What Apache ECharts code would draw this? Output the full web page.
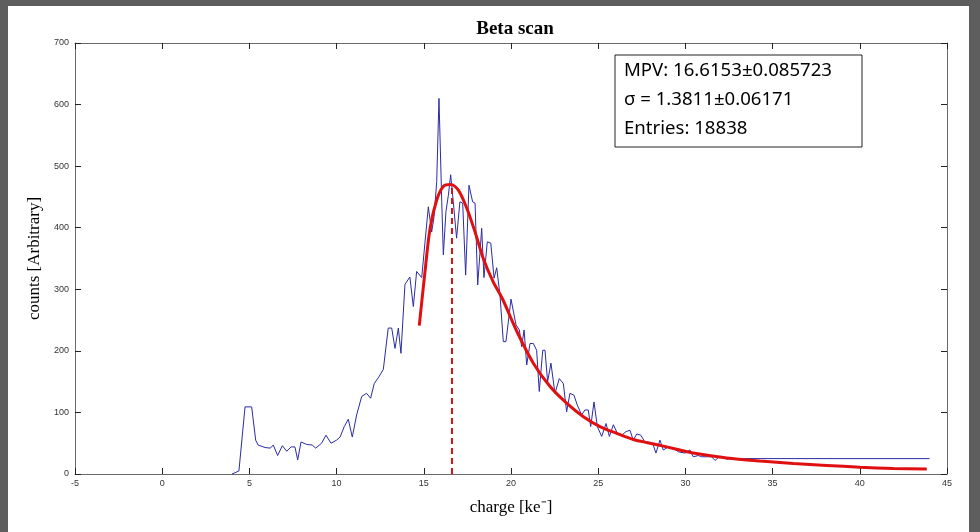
<!DOCTYPE html>
<html>
<head>
<meta charset="utf-8">
<script src="https://cdn.jsdelivr.net/npm/echarts@6/dist/echarts.min.js"></script>
<style>
html,body{margin:0;padding:0;background:#5e5e5e;}
#chart{width:980px;height:532px;}
</style>
</head>
<body>
<div id="chart"></div>
<script>
// ---- data ----
const titleText = 'Beta scan';
const xTickMin = -5, xTickMax = 45, xTickStep = 5;
const yTickMin = 0, yTickMax = 700, yTickStep = 100;

const dataX = [4.0,4.17,4.4,4.75,5.13,5.36,5.5,5.9,6.2,6.37,6.62,6.89,7.14,7.39,7.61,7.77,7.96,8.28,8.6,8.8,9.14,9.39,9.68,10.0,10.2,10.44,10.67,10.9,11.15,11.44,11.72,11.95,12.16,12.43,12.68,12.96,13.16,13.35,13.54,13.69,13.92,14.2,14.4,14.59,14.88,15.07,15.26,15.45,15.59,15.74,15.87,16.03,16.12,16.27,16.41,16.54,16.69,16.88,17.07,17.23,17.4,17.59,17.8,17.94,18.09,18.32,18.45,18.64,18.84,19.03,19.18,19.37,19.56,19.71,20.0,20.29,20.48,20.61,20.75,20.9,21.09,21.28,21.47,21.62,21.82,21.95,22.1,22.29,22.52,22.77,23.0,23.19,23.38,23.61,23.8,24.05,24.24,24.43,24.57,24.76,24.95,25.2,25.45,25.64,25.87,26.1,26.35,26.6,26.82,27.01,27.21,27.44,27.68,27.87,28.12,28.31,28.54,28.73,29.02,29.3,29.6,29.98,30.26,30.45,30.74,30.93,31.22,31.5,31.7,31.98,32.17,32.37,32.6,44.0];
const dataY = [0,2,5,109,109,55,47,43,42,47,30,46,37,44,44,23,52,48,47,42,50,63,50,55,60,77,89,60,96,126,131,123,147,158,170,237,237,204,237,196,308,320,272,329,319,377,434,393,418,475,610,442,356,426,453,486,442,383,442,440,323,469,442,440,307,399,319,377,375,318,335,290,215,215,284,242,234,207,234,177,212,212,201,134,201,201,150,180,131,155,147,101,131,128,112,96,104,104,77,117,77,61,82,61,80,66,63,69,71,55,65,63,52,52,50,34,55,39,44,42,36,34,39,28,30,28,28,28,22,29,27,24,25,25];

const fitX = [14.74,15.07,15.36,15.74,16.12,16.54,16.98,17.46,17.94,18.41,18.98,19.5,20.38,21.28,22.24,23.19,24.15,25.1,26.06,27.01,27.97,28.93,29.69,30.45,32.37,34.28,36.19,38.1,40.01,41.92,43.84];
const fitY = [241,329,399,445,467,470,461,432,393,350,312,285,229,180,142,115,93,77,66,56,50,44,39,34,26,21,17,14,11,9,8];

const mpvValue = 16.6153;
const mpvLineTop = 470;

const boxLines = ['MPV: 16.6153\u00b10.085723', '\u03c3 = 1.3811\u00b10.06171', 'Entries: 18838'];

// ---- chart ----
const chart = echarts.init(document.getElementById('chart'), null, {renderer:'canvas'});
const pairs = (xs, ys) => xs.map((x, i) => [x, ys[i]]);

const tickLabel = {fontSize: 9, color: '#333', fontFamily: 'Liberation Sans'};
const axisLine = {show: true, onZero: false, lineStyle: {color: '#6a6a6a', width: 1}};
const tick = {show: true, inside: true, length: 6, lineStyle: {color: '#222', width: 1}};
const boxFont = '18.6px "Noto Sans"';

const option = {
  backgroundColor: '#5e5e5e',
  animation: false,
  title: {
    text: titleText, left: 510, top: 15, textAlign: 'center',
    textStyle: {fontFamily: 'Liberation Serif', fontWeight: 'bold', fontSize: 19, color: '#000'}
  },
  graphic: [
    {type: 'rect', z: -10, shape: {x: 8, y: 6, width: 961, height: 530}, style: {fill: '#ffffff'}},
    {type: 'rect', z: 100, shape: {x: 615, y: 55, width: 247, height: 92}, style: {fill: '#fff', stroke: '#222', lineWidth: 1}},
    {type: 'text', z: 101, left: 624, top: 61, style: {text: boxLines[0], font: boxFont, fill: '#000'}},
    {type: 'text', z: 101, left: 624, top: 90, style: {text: boxLines[1], font: boxFont, fill: '#000'}},
    {type: 'text', z: 101, left: 624, top: 119, style: {text: boxLines[2], font: boxFont, fill: '#000'}}
  ],
  grid: {left: 75, top: 43, width: 872, height: 431, containLabel: false, show: false},
  xAxis: [
    {type: 'value', position: 'bottom', min: xTickMin, max: xTickMax, interval: xTickStep,
     axisLine: axisLine, axisTick: tick, splitLine: {show: false},
     axisLabel: Object.assign({margin: 5, showMinLabel: true, showMaxLabel: true}, tickLabel),
     name: 'charge [ke\u207b]', nameLocation: 'middle', nameGap: 25,
     nameTextStyle: {fontFamily: 'Liberation Serif', fontSize: 17, color: '#000'}},
    {type: 'value', position: 'top', min: xTickMin, max: xTickMax, interval: xTickStep,
     axisLine: axisLine, axisTick: tick, splitLine: {show: false}, axisLabel: {show: false}}
  ],
  yAxis: [
    {type: 'value', position: 'left', min: yTickMin, max: yTickMax, interval: yTickStep,
     axisLine: axisLine, axisTick: tick, splitLine: {show: false},
     axisLabel: Object.assign({margin: 6, showMinLabel: true, showMaxLabel: true}, tickLabel),
     name: 'counts [Arbitrary]', nameLocation: 'middle', nameGap: 26, nameRotate: 90,
     nameTextStyle: {fontFamily: 'Liberation Serif', fontSize: 17, color: '#000'}},
    {type: 'value', position: 'right', min: yTickMin, max: yTickMax, interval: yTickStep,
     axisLine: axisLine, axisTick: tick, splitLine: {show: false}, axisLabel: {show: false}}
  ],
  series: [
    {type: 'line', name: 'data', data: pairs(dataX, dataY), showSymbol: false, symbol: 'none',
     lineStyle: {color: '#2b2ba6', width: 1}, z: 3},
    {type: 'line', name: 'fit', data: pairs(fitX, fitY), showSymbol: false, symbol: 'none', smooth: 0.3,
     lineStyle: {color: '#e01010', width: 3}, z: 4},
    {type: 'line', name: 'mpv', data: [[mpvValue, 0], [mpvValue, mpvLineTop]], showSymbol: false, symbol: 'none',
     lineStyle: {color: '#e01010', width: 2, type: [6, 4]}, z: 5}
  ]
};
chart.setOption(option);
</script>
</body>
</html>
